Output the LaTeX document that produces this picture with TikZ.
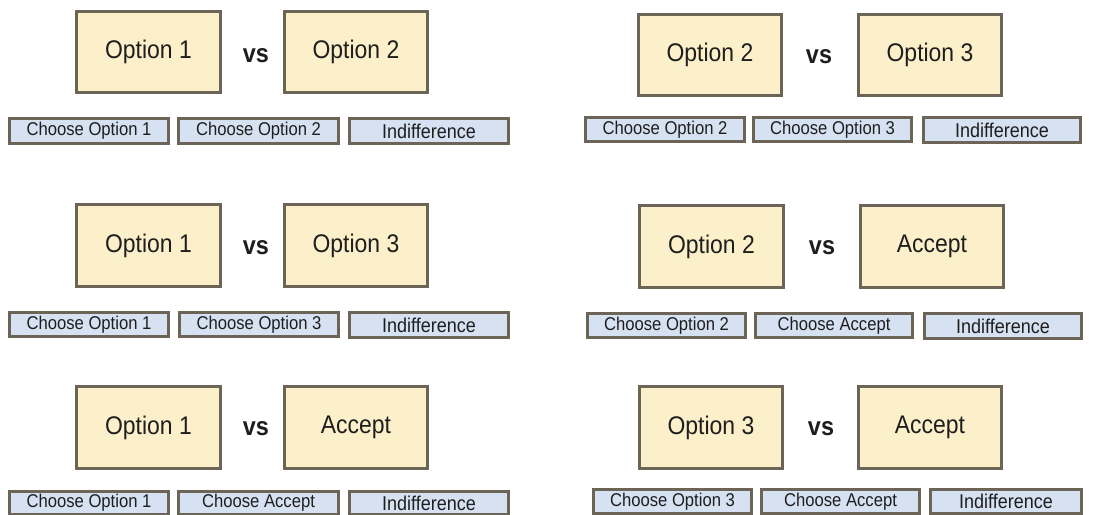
\documentclass[tikz,border=0pt]{standalone}
\usepackage{fontspec}
\setmainfont{Liberation Sans}
\definecolor{optfill}{RGB}{252,240,202}
\definecolor{btnfill}{RGB}{214,226,242}
\definecolor{edge}{RGB}{108,100,86}
\definecolor{ink}{RGB}{30,30,30}
% labels are set in a slightly condensed Arial-like face
\newcommand\squeeze[1]{\scalebox{0.9}[1]{#1}}
\tikzset{
  optbox/.style={draw=edge, line width=3pt, fill=optfill, inner sep=0pt, text=ink, font=\fontsize{25.5}{28}\selectfont},
  btnbox/.style={draw=edge, line width=2.6pt, fill=btnfill, inner sep=0pt, text=ink, font=\fontsize{18.5}{21}\selectfont},
  indbox/.style={btnbox, font=\fontsize{20}{22}\selectfont},
  versus/.style={text=ink, font=\bfseries\fontsize{26}{28}\selectfont, inner sep=0pt},
}
% \cardbox{style}{x1}{y1}{x2}{y2}{name}{text}: box by its outer edges (in px, y downward)
\newcommand\cardbox[7]{%
  \node[#1, minimum width={(#4-#2-3)*1pt}, minimum height={(#5-#3-3)*1pt}]
    (#6) at ({(#2+#4)/2},{(#3+#5)/2}) {\squeeze{#7}};}
\begin{document}
\begin{tikzpicture}[x=1pt,y=-1pt]
\clip (0,0) rectangle (1094,514);
\fill[white] (0,0) rectangle (1094,514);

% Option 1 vs Option 2
\cardbox{optbox}{75}{10}{222}{94}{a1}{Option 1}
\cardbox{optbox}{283}{10}{429}{94}{a2}{Option 2}
\node[versus] (avs) at (256,56) {\squeeze{vs}};
\cardbox{btnbox}{8}{117}{170}{145}{ab1}{Choose Option 1}
\cardbox{btnbox}{177}{117}{340}{145}{ab2}{Choose Option 2}
\cardbox{indbox}{348}{117}{510}{145}{ab3}{Indifference}

% Option 2 vs Option 3
\cardbox{optbox}{637}{13}{783}{97}{b1}{Option 2}
\cardbox{optbox}{857}{13}{1003}{97}{b2}{Option 3}
\node[versus] (bvs) at (819,57) {\squeeze{vs}};
\cardbox{btnbox}{584}{116}{746}{143}{bb1}{Choose Option 2}
\cardbox{btnbox}{752}{116}{913}{143}{bb2}{Choose Option 3}
\cardbox{indbox}{922}{116}{1082}{144}{bb3}{Indifference}

% Option 1 vs Option 3
\cardbox{optbox}{75}{203}{222}{288}{c1}{Option 1}
\cardbox{optbox}{283}{203}{429}{288}{c2}{Option 3}
\node[versus] (cvs) at (256,248) {\squeeze{vs}};
\cardbox{btnbox}{8}{311}{170}{338}{cb1}{Choose Option 1}
\cardbox{btnbox}{178}{311}{340}{338}{cb2}{Choose Option 3}
\cardbox{indbox}{348}{311}{510}{339}{cb3}{Indifference}

% Option 2 vs Accept
\cardbox{optbox}{638}{204}{785}{289}{d1}{Option 2}
\cardbox{optbox}{859}{204}{1005}{289}{d2}{Accept}
\node[versus] (dvs) at (822,248) {\squeeze{vs}};
\cardbox{btnbox}{586}{312}{747}{339}{db1}{Choose Option 2}
\cardbox{btnbox}{754}{312}{914}{339}{db2}{Choose Accept}
\cardbox{indbox}{923}{312}{1083}{340}{db3}{Indifference}

% Option 1 vs Accept
\cardbox{optbox}{75}{385}{222}{470}{e1}{Option 1}
\cardbox{optbox}{283}{385}{429}{470}{e2}{Accept}
\node[versus] (evs) at (256,429) {\squeeze{vs}};
\cardbox{btnbox}{8}{490}{170}{516}{eb1}{Choose Option 1}
\cardbox{btnbox}{177}{490}{340}{516}{eb2}{Choose Accept}
\cardbox{indbox}{348}{490}{510}{516}{eb3}{Indifference}

% Option 3 vs Accept
\cardbox{optbox}{638}{385}{784}{470}{f1}{Option 3}
\cardbox{optbox}{857}{385}{1003}{470}{f2}{Accept}
\node[versus] (fvs) at (821,429) {\squeeze{vs}};
\cardbox{btnbox}{592}{488}{753}{515}{fb1}{Choose Option 3}
\cardbox{btnbox}{760}{488}{921}{515}{fb2}{Choose Accept}
\cardbox{indbox}{929}{488}{1083}{515}{fb3}{Indifference}
\end{tikzpicture}
\end{document}
